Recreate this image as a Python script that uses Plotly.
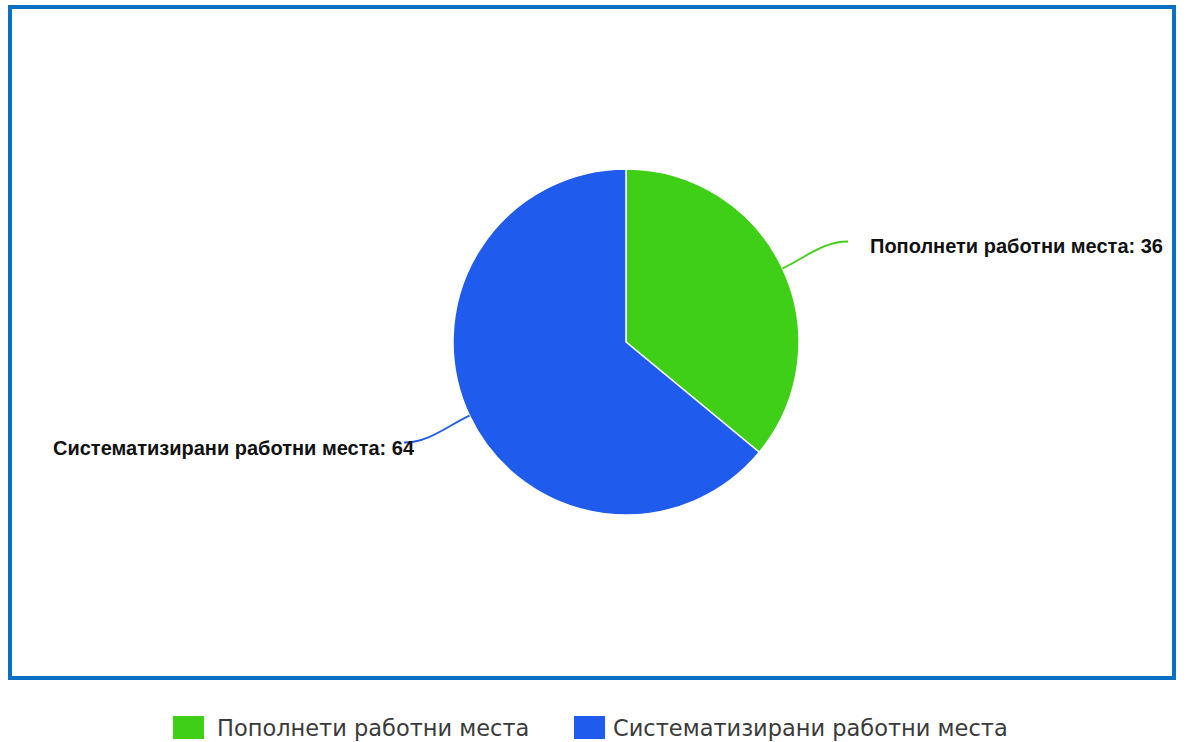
import math
import plotly.graph_objects as go

labels = ["Пополнети работни места", "Систематизирани работни места"]
values = [36, 64]
colors = ["#3fcf17", "#1f5bed"]

W, H = 1200, 742
cx, cy, r = 626, 342, 173


def px(x):
    return x / W


def py(y):
    return 1 - y / H


fig = go.Figure(go.Pie(
    labels=labels, values=values, sort=False, direction="clockwise", rotation=0,
    marker=dict(colors=colors, line=dict(color="white", width=1.5)),
    textinfo="none", hoverinfo="label+value",
    domain=dict(x=[px(cx - r), px(cx + r)], y=[py(cy + r), py(cy - r)]),
    showlegend=False,
))

shapes = []
annotations = []

# plot-area border
shapes.append(dict(type="rect", xref="paper", yref="paper",
                   x0=px(10), x1=px(1174), y0=py(678), y1=py(7),
                   line=dict(color="#0b70c4", width=4), layer="below"))

label_font = dict(family="Liberation Sans, Arial, sans-serif", size=20, color="#111111")

total = sum(values)
cum = 0
for lab, val, col in zip(labels, values, colors):
    th = 2 * math.pi * (cum + val / 2) / total
    cum += val
    s, c = math.sin(th), math.cos(th)
    sx, sy = cx + r * s, cy - r * c
    side = 1 if s > 0 else -1
    ex, ey = cx + side * 222, sy - 63 * c
    c1x, c1y = sx + 25 * s, sy - 25 * c
    c2x, c2y = ex - side * 25, ey
    path = "M {},{} C {},{} {},{} {},{}".format(
        px(sx), py(sy), px(c1x), py(c1y), px(c2x), py(c2y), px(ex), py(ey))
    shapes.append(dict(type="path", xref="paper", yref="paper", path=path,
                       line=dict(color=col, width=1.8)))
    if side > 0:
        annotations.append(dict(x=px(ex + 20), y=py(ey + 4), xref="paper", yref="paper",
                                text="<b>{}: {}</b>".format(lab, val), showarrow=False,
                                xanchor="left", yanchor="middle", font=label_font))
    else:
        annotations.append(dict(x=px(ex + 13), y=py(ey + 6), xref="paper", yref="paper",
                                text="<b>{}: {}</b>".format(lab, val), showarrow=False,
                                xanchor="right", yanchor="middle", font=label_font))

# legend (manual)
sq_x = [173, 574]
txt_x = [215, 611]
for lab, col, x0, tx in zip(labels, colors, sq_x, txt_x):
    shapes.append(dict(type="rect", xref="paper", yref="paper",
                       x0=px(x0), x1=px(x0 + 31), y0=py(739), y1=py(716),
                       fillcolor=col, line=dict(width=0)))
    annotations.append(dict(x=px(tx), y=py(728), xref="paper", yref="paper", text=lab,
                            showarrow=False, xanchor="left", yanchor="middle",
                            font=dict(family="DejaVu Sans, sans-serif",
                                      size=22.5, color="#3a3a3a")))

fig.update_layout(
    width=W, height=H, margin=dict(l=0, r=0, t=0, b=0),
    paper_bgcolor="white", plot_bgcolor="white",
    shapes=shapes, annotations=annotations, showlegend=False,
)

fig.write_html("out.html", config={"displayModeBar": False},
               post_script="document.body.style.margin='0';document.body.style.overflow='hidden';")
